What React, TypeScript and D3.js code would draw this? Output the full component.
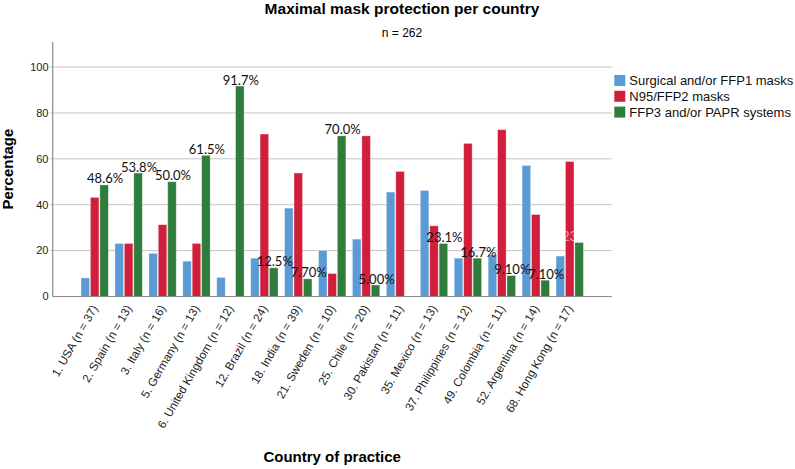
import React from 'react';
import * as d3 from 'd3';

const countries = [
  '1. USA (n = 37)', '2. Spain (n = 13)', '3. Italy (n = 16)', '5. Germany (n = 13)',
  '6. United Kingdom (n = 12)', '12. Brazil (n = 24)', '18. India (n = 39)', '21. Sweden (n = 10)',
  '25. Chile (n = 20)', '30. Pakistan (n = 11)', '35. Mexico (n = 13)', '37. Philippines (n = 12)',
  '49. Colombia (n = 11)', '52. Argentina (n = 14)', '68. Hong Kong (n = 17)',
];

const surgical = [8.1, 23.1, 18.8, 15.4, 8.3, 16.7, 38.5, 20.0, 25.0, 45.5, 46.2, 16.7, 18.2, 57.1, 17.6];
const n95 = [43.2, 23.1, 31.3, 23.1, 0, 70.8, 53.8, 10.0, 70.0, 54.5, 30.8, 66.7, 72.7, 35.7, 58.8];
const ffp3 = [48.6, 53.8, 50.0, 61.5, 91.7, 12.5, 7.7, 70.0, 5.0, 0, 23.1, 16.7, 9.1, 7.1, 23.5];
const ffp3Labels = ['48.6%', '53.8%', '50.0%', '61.5%', '91.7%', '12.5%', '7.70%', '70.0%', '5.00%', '', '23.1%', '16.7%', '9.10%', '7.10%', '23.5%'];

const seriesNames = ['Surgical and/or FFP1 masks', 'N95/FFP2 masks', 'FFP3 and/or PAPR systems'];
const seriesValues = [surgical, n95, ffp3];
const colors = ['#5b9bd5', '#d11f3b', '#2e7d3c'];
const yTicks = [0, 20, 40, 60, 80, 100];

const W = 795;
const H = 469;
const left = 52.7;
const right = 611.7;
const bottom = 296.5;
const top = 41.8;

export default function App() {
  const x = d3.scaleBand<string>().domain(countries).range([left, right]).paddingInner(0.195).paddingOuter(0.835);
  const xs = d3.scaleBand<number>().domain([0, 1, 2]).range([0, x.bandwidth()]).paddingInner(0.1);
  const y = d3.scaleLinear().domain([0, 111]).range([bottom, top]);
  const sans = 'Arial, "Liberation Sans", sans-serif';

  return (
    <svg width={W} height={H} style={{ position: 'absolute', left: 0, top: 0, background: '#fff' }}>
      <text x={402} y={13.5} textAnchor="middle" fontFamily={sans} fontWeight="bold" fontSize={15.5}>
        Maximal mask protection per country
      </text>
      <text x={402} y={36.5} textAnchor="middle" fontFamily={sans} fontSize={12}>n = 262</text>

      {/* grid */}
      {yTicks.filter(t => t > 0).map(t => (
        <line key={t} x1={left - 3} x2={right} y1={y(t)} y2={y(t)} stroke="#c4c4c4" strokeWidth={1} />
      ))}
      {yTicks.map(t => (
        <text key={'t' + t} x={48.5} y={y(t)} dy="0.35em" textAnchor="end" fontFamily={sans} fontSize={11} fill="#222">
          {t}
        </text>
      ))}

      {/* bars */}
      {countries.map((c, i) => (
        <g key={c} transform={`translate(${x(c)},0)`}>
          {seriesValues.map((vals, s) => vals[i] > 0 && (
            <rect key={s} x={xs(s)} y={y(vals[i])} width={xs.bandwidth()} height={bottom - y(vals[i])}
              fill={colors[s]} stroke="#ffffff" strokeOpacity={0.35} strokeWidth={0.8} />
          ))}
        </g>
      ))}

      {/* axes */}
      <line x1={left} x2={left} y1={top} y2={bottom} stroke="#8a8a8a" strokeWidth={1.2} />
      <line x1={left} x2={right} y1={bottom} y2={bottom} stroke="#8a8a8a" strokeWidth={1.2} />

      {/* value labels */}
      {countries.map((c, i) => ffp3Labels[i] && (
        <text key={'l' + c} x={(x(c) as number) + (xs(2) as number) + xs.bandwidth() / 2 + 1} y={y(ffp3[i]) - 1.5}
          textAnchor="middle" fontFamily='Lato, "Open Sans", sans-serif' fontSize={13}
          fill={i === countries.length - 1 ? '#ffffff' : '#111'}
          fillOpacity={i === countries.length - 1 ? 0.55 : 1}>
          {ffp3Labels[i]}
        </text>
      ))}

      {/* x labels */}
      {countries.map(c => (
        <text key={'x' + c} transform={`translate(${(x(c) as number) + x.bandwidth() / 2},306) rotate(-60)`}
          dy="0.35em" textAnchor="end" fontFamily={sans} fontSize={11.7} fill="#222">
          {c}
        </text>
      ))}

      <text transform={`translate(13.3,${(top + bottom) / 2}) rotate(-90)`} textAnchor="middle"
        fontFamily={sans} fontWeight="bold" fontSize={15}>Percentage</text>
      <text x={(left + right) / 2} y={462} textAnchor="middle" fontFamily={sans} fontWeight="bold" fontSize={15}>
        Country of practice
      </text>

      {/* legend */}
      {seriesNames.map((nm, s) => (
        <g key={nm} transform={`translate(614.3,${75 + s * 15.8})`}>
          <rect width={11} height={11} fill={colors[s]} />
          <text x={15} y={10} fontFamily={sans} fontSize={13} fill="#111">{nm}</text>
        </g>
      ))}
    </svg>
  );
}
